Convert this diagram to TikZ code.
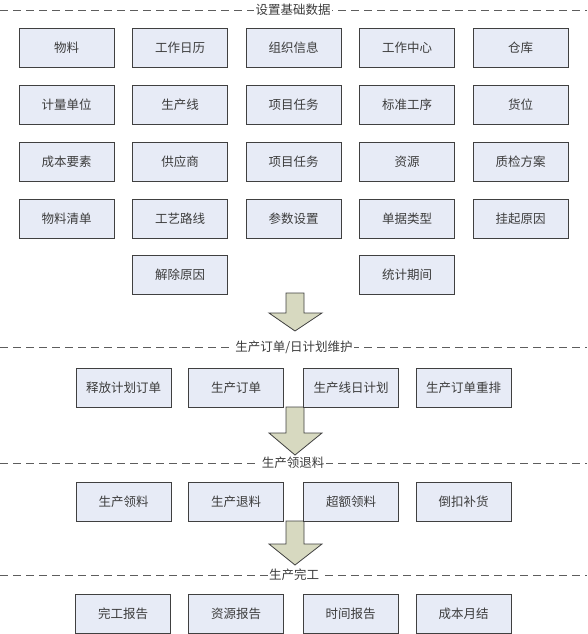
\documentclass[tikz,border=0pt]{standalone}
\usepackage{fontspec}
\setmainfont{Noto Sans CJK SC}
\definecolor{boxblue}{RGB}{231, 235, 246}
\definecolor{edgegray}{RGB}{64, 64, 64}
\definecolor{arrowkhaki}{RGB}{215, 217, 192}
\definecolor{textgray}{RGB}{60, 60, 60}
\usepackage{tikz}
\usetikzlibrary{positioning}

\begin{document}
\begin{tikzpicture}[x=1pt, y=-1pt,
  item/.style={draw=edgegray, fill=boxblue, line width=0.8pt, minimum width=95pt, minimum height=39pt, inner sep=0pt, font=\fontsize{12.5}{13}\selectfont, text=textgray},
  sectitle/.style={fill=white, inner sep=1.5pt, font=\fontsize{12.5}{13}\selectfont, text=textgray},
  sepline/.style={draw=edgegray!85, line width=0.7pt, dash pattern=on 8pt off 5pt},
  bigarrow/.style={draw=edgegray, fill=arrowkhaki, line width=0.8pt, line join=miter}]
  \useasboundingbox (0, 0) rectangle (587, 634);

  % Big arrows between the stages (behind the boxes)
  \draw[bigarrow] (286, 293) -- (304, 293) -- (304, 313) -- (322, 313) -- (295, 331) -- (269, 313) -- (286, 313) -- cycle;
  \draw[bigarrow] (286, 407) -- (304, 407) -- (304, 433) -- (322, 433) -- (295, 455) -- (269, 433) -- (286, 433) -- cycle;
  \draw[bigarrow] (286, 521) -- (304, 521) -- (304, 544) -- (322, 544) -- (295, 565) -- (269, 544) -- (286, 544) -- cycle;

  % Stage 1: base data
  \draw[sepline] (0, 10) -- (587, 10);
  \node[sectitle] (secjc) at (293, 10) {设置基础数据};

  \node[item] (jc11) at (66.5, 47.5) {物料};
  \node[item] (jc12) at (180, 47.5) {工作日历};
  \node[item] (jc13) at (293.5, 47.5) {组织信息};
  \node[item] (jc14) at (407, 47.5) {工作中心};
  \node[item] (jc15) at (520.5, 47.5) {仓库};

  \node[item] (jc21) at (66.5, 104.5) {计量单位};
  \node[item] (jc22) at (180, 104.5) {生产线};
  \node[item] (jc23) at (293.5, 104.5) {项目任务};
  \node[item] (jc24) at (407, 104.5) {标准工序};
  \node[item] (jc25) at (520.5, 104.5) {货位};

  \node[item] (jc31) at (66.5, 161.5) {成本要素};
  \node[item] (jc32) at (180, 161.5) {供应商};
  \node[item] (jc33) at (293.5, 161.5) {项目任务};
  \node[item] (jc34) at (407, 161.5) {资源};
  \node[item] (jc35) at (520.5, 161.5) {质检方案};

  \node[item] (jc41) at (66.5, 218.5) {物料清单};
  \node[item] (jc42) at (180, 218.5) {工艺路线};
  \node[item] (jc43) at (293.5, 218.5) {参数设置};
  \node[item] (jc44) at (407, 218.5) {单据类型};
  \node[item] (jc45) at (520.5, 218.5) {挂起原因};

  \node[item] (jc52) at (180, 274.5) {解除原因};
  \node[item] (jc54) at (407, 274.5) {统计期间};

  % Stage 2: orders and daily plans
  \draw[sepline] (0, 347) -- (587, 347);
  \node[sectitle] (secdd) at (294, 347) {生产订单/日计划维护};

  \node[item] (dd1) at (123.5, 387.5) {释放计划订单};
  \node[item] (dd2) at (236, 387.5) {生产订单};
  \node[item] (dd3) at (351, 387.5) {生产线日计划};
  \node[item] (dd4) at (463.5, 387.5) {生产订单重排};

  % Stage 3: issue and return of material
  \draw[sepline] (0, 463) -- (587, 463);
  \node[sectitle] (secll) at (293, 463) {生产领退料};

  \node[item] (ll1) at (123.5, 501.5) {生产领料};
  \node[item] (ll2) at (236, 501.5) {生产退料};
  \node[item] (ll3) at (351, 501.5) {超额领料};
  \node[item] (ll4) at (463.5, 501.5) {倒扣补货};

  % Stage 4: completion
  \draw[sepline] (0, 575) -- (587, 575);
  \node[sectitle] (secwg) at (294, 575) {生产完工};

  \node[item] (wg1) at (123, 614) {完工报告};
  \node[item] (wg2) at (236, 614) {资源报告};
  \node[item] (wg3) at (350.5, 614) {时间报告};
  \node[item] (wg4) at (463.5, 614) {成本月结};
\end{tikzpicture}
\end{document}
